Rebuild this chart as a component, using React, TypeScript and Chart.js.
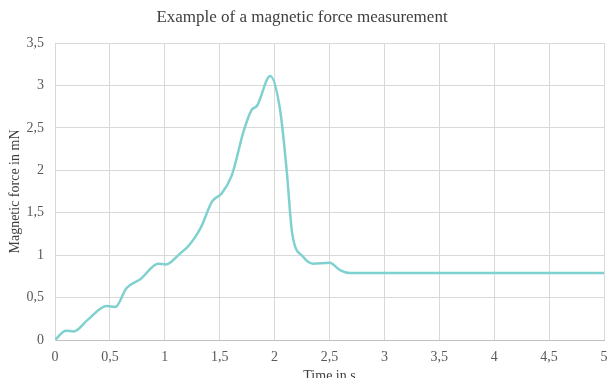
import React, { useEffect, useRef } from "react";
import { Chart, registerables } from "chart.js";

Chart.register(...registerables);

const timeValues = [0, 0.1, 0.17, 0.3, 0.47, 0.55, 0.65, 0.78, 0.94, 1.01, 1.14, 1.21, 1.27, 1.33, 1.43, 1.52, 1.61, 1.72, 1.79, 1.84, 1.96, 2.05, 2.11, 2.16, 2.26, 2.35, 2.5, 2.6, 2.68, 3, 4, 5];
const forceValues = [0, 0.11, 0.1, 0.24, 0.4, 0.39, 0.61, 0.72, 0.9, 0.89, 1.02, 1.1, 1.2, 1.33, 1.63, 1.73, 1.94, 2.47, 2.71, 2.76, 3.11, 2.71, 2.0, 1.26, 0.98, 0.9, 0.91, 0.82, 0.79, 0.79, 0.79, 0.79];

const titleText = "Example of a magnetic force measurement";
const xTitle = "Time in s";
const yTitle = "Magnetic force in mN";

const fmt = (v: number) => String(v).replace(".", ",");

export default function App() {
  const ref = useRef<HTMLCanvasElement>(null);
  useEffect(() => {
    document.body.style.margin = "0";
    const ctx = ref.current!;
    const serif = "'Liberation Serif', 'Times New Roman', serif";
    const chart = new Chart(ctx, {
      type: "line",
      data: {
        datasets: [
          {
            data: timeValues.map((t, i) => ({ x: t, y: forceValues[i] })),
            borderColor: "#7fd1cf",
            borderWidth: 2.5,
            pointRadius: 0,
            fill: false,
            cubicInterpolationMode: "monotone",
          },
        ],
      },
      options: {
        animation: false,
        responsive: false,
        layout: { padding: { left: 0, right: 5, top: 0, bottom: 0 } },
        plugins: {
          legend: { display: false },
          tooltip: { enabled: false },
          title: {
            display: true,
            text: titleText,
            color: "#404040",
            font: { family: serif, size: 17, weight: "normal" },
            padding: { top: 7, bottom: 15.6 },
          },
        },
        scales: {
          x: {
            type: "linear",
            min: 0,
            max: 5,
            ticks: {
              stepSize: 0.5,
              color: "#595959",
              font: { family: serif, size: 14 },
              padding: 9,
              callback: (v: any) => fmt(v),
              maxRotation: 0,
            },
            grid: { color: "#d9d9d9", drawTicks: false },
            border: { color: "#bfbfbf" },
            title: {
              display: true,
              text: xTitle,
              color: "#404040",
              font: { family: serif, size: 14 },
              padding: { top: 0, bottom: -7 },
            },
            afterFit: (s: any) => {
              s.height = 38;
              s.paddingLeft = 0;
              s.paddingRight = 0;
            },
          },
          y: {
            type: "linear",
            min: 0,
            max: 3.5,
            ticks: {
              stepSize: 0.5,
              color: "#595959",
              font: { family: serif, size: 14 },
              padding: 11,
              callback: (v: any) => fmt(v),
            },
            grid: { color: "#d9d9d9", drawTicks: false },
            border: { color: "#d9d9d9" },
            title: {
              display: true,
              text: yTitle,
              color: "#404040",
              font: { family: serif, size: 14 },
              padding: { top: 7, bottom: 0 },
            },
            afterFit: (s: any) => {
              s.width = 55;
              s.paddingTop = 0;
              s.paddingBottom = 0;
            },
          },
        },
      },
    });
    return () => chart.destroy();
  }, []);
  return <canvas ref={ref} width={609} height={378} style={{ display: "block" }} />;
}
